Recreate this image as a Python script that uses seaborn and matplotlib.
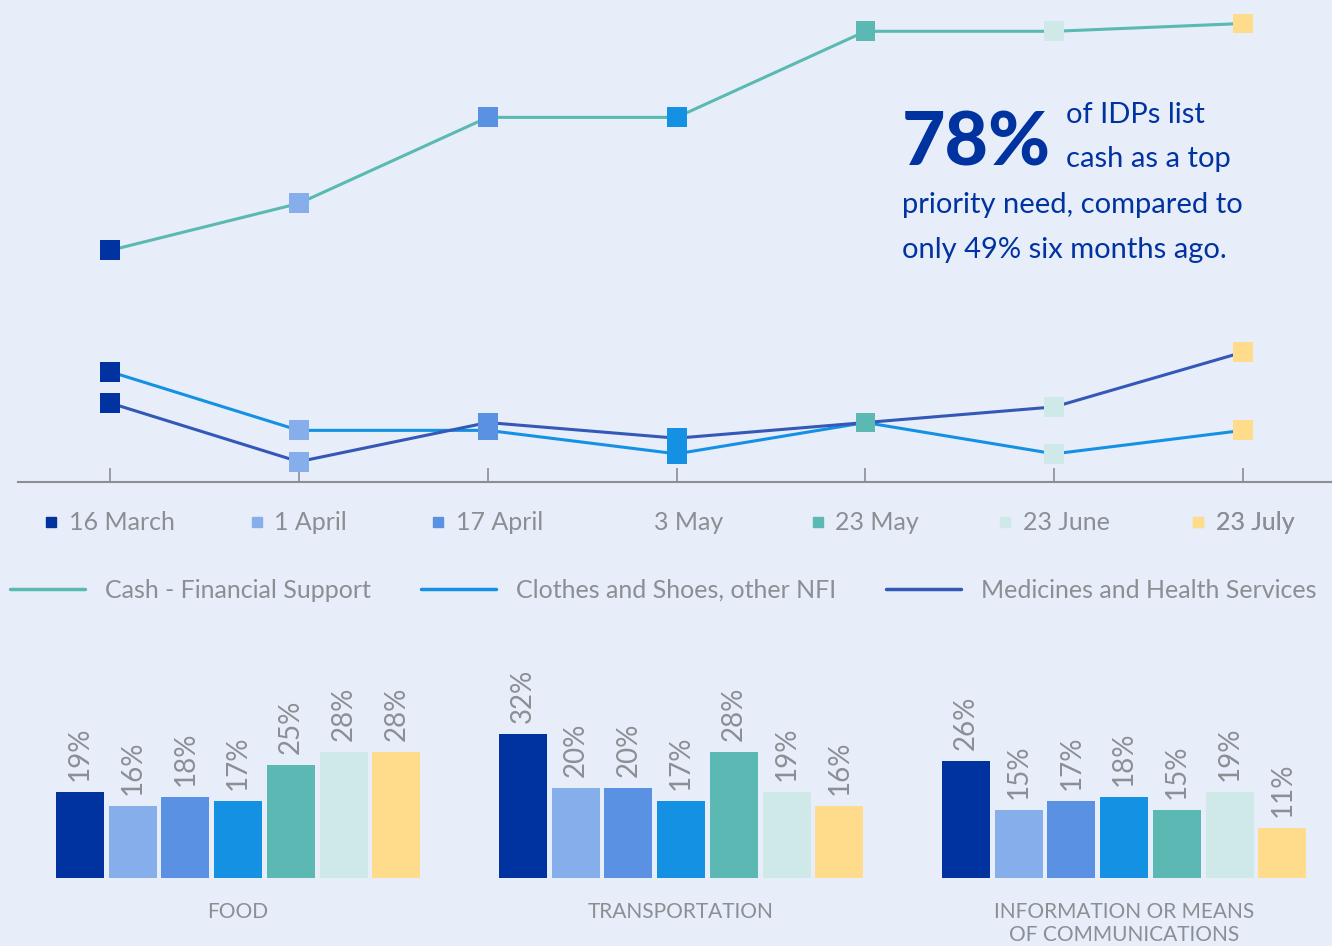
import pandas as pd
import seaborn as sns
import matplotlib.pyplot as plt
import matplotlib.transforms as mtransforms
from matplotlib.lines import Line2D

# Survey rounds
dates = ['16 March', '1 April', '17 April', '3 May', '23 May', '23 June', '23 July']
date_colors = ['#0033a0', '#86aeea', '#5b91e2', '#1591e3', '#5cb8b3', '#cfe8e8', '#ffdb8c']

# Top priority needs over time (% of IDPs)
cash = [49, 55, 66, 66, 77, 77, 78]
clothes = [33.5, 26, 26, 23, 27, 23, 26]
medicines = [29.5, 22, 27, 25, 27, 29, 36]
series_names = ['Cash - Financial Support', 'Clothes and Shoes, other NFI',
                'Medicines and Health Services']
series_colors = ['#5ab9b1', '#1591e3', '#3458b8']

# Other needs by round (%)
food = [19, 16, 18, 17, 25, 28, 28]
transportation = [32, 20, 20, 17, 28, 19, 16]
information = [26, 15, 17, 18, 15, 19, 11]
bar_titles = ['FOOD', 'TRANSPORTATION', 'INFORMATION OR MEANS\nOF COMMUNICATIONS']

bg = '#e7eefa'
gray = '#8a8f94'
navy = '#0033a0'

sns.set_theme(style='white')
plt.rcParams['font.family'] = ['Lato', 'DejaVu Sans']

W, H = 1332, 946
fig = plt.figure(figsize=(W / 100, H / 100), dpi=100, facecolor=bg)

# long table for the line chart
rows = []
for name, vals in zip(series_names, [cash, clothes, medicines]):
    for i, (d, v) in enumerate(zip(dates, vals)):
        rows.append({'pos': i, 'date': d, 'series': name, 'value': v})
df = pd.DataFrame(rows)

ax = fig.add_axes([18 / W, 1 - 482 / H, (W - 18) / W, 482 / H])
ax.set_facecolor(bg)
sns.lineplot(data=df, x='pos', y='value', hue='series', palette=dict(zip(series_names, series_colors)),
             linewidth=2.2, legend=False, ax=ax, zorder=2)
sns.scatterplot(data=df, x='pos', y='value', hue='date', palette=dict(zip(dates, date_colors)),
                marker='s', s=205, linewidth=0, legend=False, ax=ax, zorder=3)
ax.set_xlim(-0.487, 6.47)
ax.set_ylim(19.4, 81)
for s in ['top', 'right', 'left']:
    ax.spines[s].set_visible(False)
ax.spines['bottom'].set_color(gray)
ax.spines['bottom'].set_linewidth(1.5)
ax.set_xticks(range(len(dates)))
ax.set_xticklabels([])
ax.set_yticks([])
ax.tick_params(axis='x', direction='in', length=10, width=1.2, color=gray, bottom=True)
ax.set_xlabel('')
ax.set_ylabel('')

# date labels with colored squares under each tick
trans = mtransforms.blended_transform_factory(ax.transData, ax.transAxes)
for i, (d, c) in enumerate(zip(dates, date_colors)):
    vis = d != '3 May'
    h = Line2D([], [], marker='s', linestyle='none', markersize=7, color=c, alpha=1 if vis else 0)
    leg = ax.legend([h], [d], loc='center', bbox_to_anchor=(i, -0.085), bbox_transform=trans,
                    frameon=False, fontsize=18, handlelength=0.5, handletextpad=0.45,
                    borderpad=0, borderaxespad=0, labelcolor=gray)
    ax.add_artist(leg)

# line legend
line_handles = [Line2D([], [], color=c, linewidth=2.5) for c in series_colors]
fig.legend(line_handles, series_names, loc='center left', bbox_to_anchor=(10 / W, 1 - 590 / H),
           ncol=3, frameon=False, fontsize=18, handlelength=3.0, handletextpad=0.8,
           columnspacing=2.0, borderpad=0, borderaxespad=0, labelcolor=gray)

# call-out text
fig.text(902 / W, 1 - 165 / H, '78%', weight='black', fontsize=54, color=navy, va='baseline')
fig.text(1066 / W, 1 - 123 / H, 'of IDPs list', fontsize=21, color=navy, va='baseline')
fig.text(1066 / W, 1 - 167 / H, 'cash as a top', fontsize=21, color=navy, va='baseline')
fig.text(902 / W, 1 - 213 / H, 'priority need, compared to', fontsize=21, color=navy, va='baseline')
fig.text(902 / W, 1 - 258 / H, 'only 49% six months ago.', fontsize=21, color=navy, va='baseline')

# small bar charts
bar_lefts = [53.7, 496.7, 939.7]
for left, vals, title in zip(bar_lefts, [food, transportation, information], bar_titles):
    bx = fig.add_axes([left / W, 1 - 878 / H, 368.9 / W, 218 / H])
    bx.set_facecolor(bg)
    sns.barplot(x=dates, y=vals, hue=dates, palette=date_colors, width=0.91,
                legend=False, ax=bx, saturation=1, linewidth=0)
    for cont in bx.containers:
        bx.bar_label(cont, fmt='%d%%', rotation=90, padding=8, fontsize=20, color=gray)
    bx.set_xlim(-0.5, 6.5)
    bx.set_ylim(0, 48.4)
    bx.set_xticks([])
    bx.set_yticks([])
    for s in bx.spines.values():
        s.set_visible(False)
    bx.set_ylabel('')
    bx.set_xlabel(title, fontsize=15, color=gray, labelpad=17, linespacing=1.2)

fig.savefig('out.png', dpi=100, facecolor=bg)
